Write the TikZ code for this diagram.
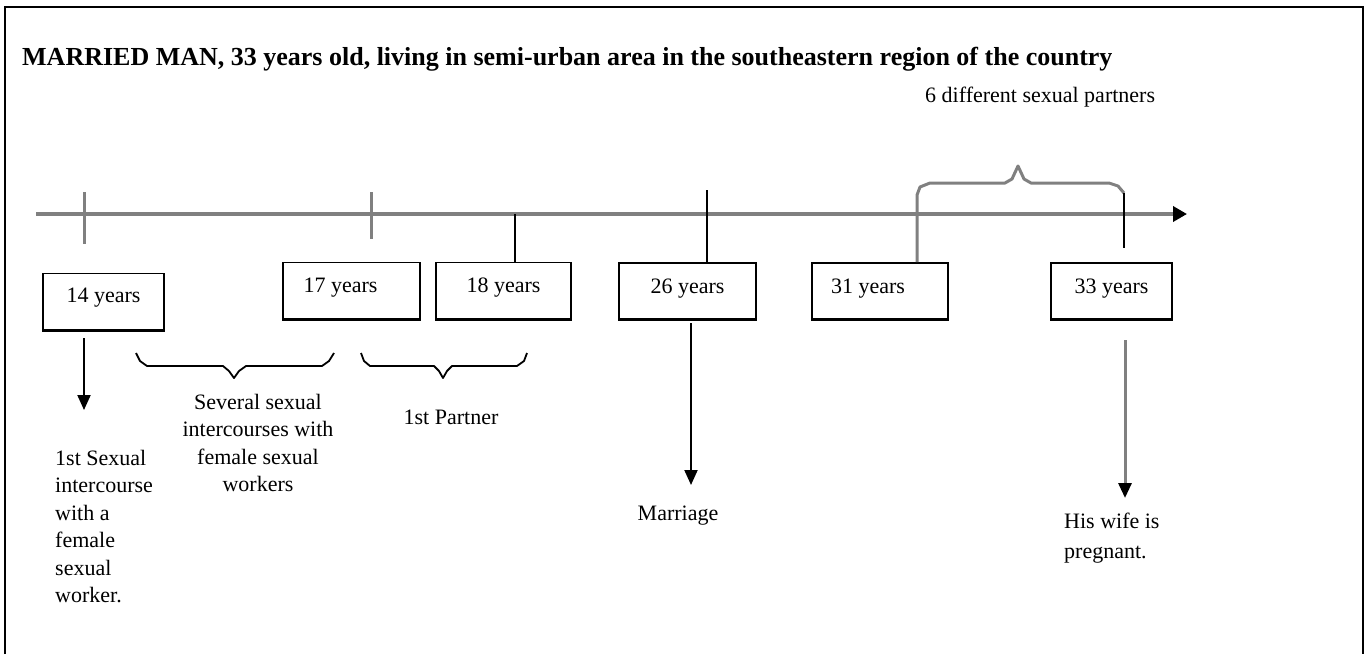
\documentclass[tikz,border=0pt]{standalone}
\usepackage{fontspec}
\setmainfont{Liberation Serif}
\usetikzlibrary{arrows.meta}
\definecolor{tgray}{RGB}{128,128,128}
\begin{document}
\begin{tikzpicture}[x=1pt,y=-1pt,
  txt/.style={inner sep=0pt,font=\fontsize{22}{27.5}\selectfont},
  box/.style={draw=black,line width=1.6pt,inner sep=0pt,minimum height=56pt,text depth=10pt,
              font=\fontsize{22}{27.5}\selectfont},
  boxbase/.style={line width=3.2pt},
  head/.style={-{Triangle[length=15pt,width=13pt,color=black,fill=black]}},
  arr/.style={line width=2pt,head},
  garr/.style={line width=3pt,draw=tgray,head},
  gtick/.style={draw=tgray,line width=3pt},
  btick/.style={draw=black,line width=2pt},
  bbrace/.style={draw=black,line width=1.8pt,line join=round},
  gbrace/.style={draw=tgray,line width=3pt,line join=round}
]
\useasboundingbox (0,0) rectangle (1366,654);
% frame (open at the bottom)
\draw[line width=2.5pt] (5,654) -- (5,7) -- (1363,7) -- (1363,654);

% title
\node[inner sep=0pt,anchor=base west,font=\fontsize{26}{30}\selectfont\bfseries] (title) at (22,65)
  {MARRIED MAN, 33 years old, living in semi-urban area in the southeastern region of the country};

% time line
\coordinate (tls) at (36,214);
\coordinate (tle) at (1187,214);
\draw[line width=4pt,draw=tgray,-{Triangle[length=14pt,width=15pt,color=black,fill=black]}] (tls) -- (tle);

% boxes
\node[box,minimum width=121pt,text depth=12pt] (b14) at (103.5,301.5) {14 years};
\node[box,minimum width=137pt] (b17) at (351.5,290.5) {\hspace*{-22pt}17 years};
\node[box,minimum width=135pt] (b18) at (503.5,290.5) {18 years};
\node[box,minimum width=137pt] (b26) at (687.5,291) {26 years};
\node[box,minimum width=136pt] (b31) at (880,291) {\hspace*{-24pt}31 years};
\node[box,minimum width=121pt] (b33) at (1111.5,291) {33 years};
\foreach \b in {b14,b17,b18,b26,b31,b33}
  \draw[boxbase] (\b.south west) -- (\b.south east);

% ticks
\draw[gtick] (84,192) -- (84,244);
\draw[gtick] (371,192) -- (371,239);
\draw[btick] (515,214) -- (515,262);
\draw[btick] (707,190) -- (707,262);

% upper brace (31 -> 33 years)
\draw[gbrace] (917,262) -- (917,195) -- (920,187) -- (930,183) -- (1005,183) -- (1012,179)
  -- (1018,166) -- (1024,179) -- (1031,183) -- (1109,183) -- (1118,186) -- (1124,193);
\draw[btick,line width=2.2pt] (1124,193) -- (1124,248);

% lower braces
\draw[bbrace] (136,353) -- (140,361) -- (147,366) -- (223,366) -- (229,371) -- (234,378)
  -- (239,371) -- (246,366) -- (322,366) -- (329,361) -- (334,353);
\draw[bbrace] (361,353) -- (364,361) -- (370,366) -- (434,366) -- (439,371) -- (443,378)
  -- (447,371) -- (452,366) -- (517,366) -- (524,361) -- (527,353);

% texts
\node[txt,anchor=base west] (six) at (925,102) {6 different sexual partners};
\node[txt,anchor=north west,align=left] (t14) at (55,450)
  {1st Sexual\\intercourse\\with a\\female\\sexual\\worker.};
\node[txt,anchor=north,align=center] (tsev) at (258,394)
  {Several sexual\\intercourses with\\female sexual\\workers};
\node[txt,anchor=base] (tpart) at (451,424) {1st Partner};
\node[txt,anchor=base] (tmar) at (678,520) {Marriage};
\node[txt,anchor=north west,align=left,font=\fontsize{22}{30}\selectfont] (twife) at (1064,513)
  {His wife is\\pregnant.};

% arrows
\coordinate (a14s) at (84,338);  \coordinate (a14e) at (84,410);
\coordinate (a26s) at (691,323); \coordinate (a26e) at (691,485);
\coordinate (a33s) at (1125,340); \coordinate (a33e) at (1125,498);
\draw[arr] (a14s) -- (a14e);
\draw[arr] (a26s) -- (a26e);
\draw[garr] (a33s) -- (a33e);
\end{tikzpicture}
\end{document}
